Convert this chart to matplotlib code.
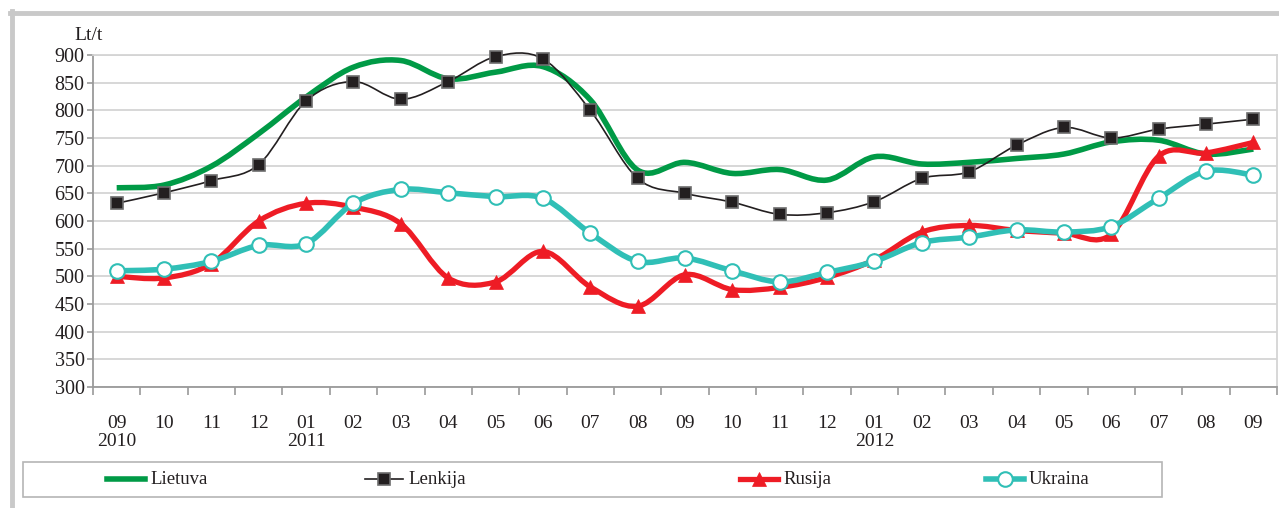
import matplotlib
matplotlib.use("Agg")
import matplotlib.pyplot as plt
import numpy as np
from matplotlib.path import Path
from matplotlib.patches import PathPatch, Rectangle
from matplotlib.lines import Line2D
import matplotlib.transforms as mtransforms

months = ["09", "10", "11", "12", "01", "02", "03", "04", "05", "06", "07", "08",
          "09", "10", "11", "12", "01", "02", "03", "04", "05", "06", "07", "08", "09"]
years = {0: "2010", 4: "2011", 16: "2012"}

lietuva = [660, 665, 699, 758, 824, 878, 890, 857, 869, 879, 819, 692, 706,
           686, 693, 674, 716, 703, 706, 713, 721, 743, 746, 721, 730]
lenkija = [632, 651, 673, 702, 817, 852, 820, 852, 897, 893, 800, 677, 650,
           634, 612, 615, 635, 677, 689, 737, 769, 750, 766, 775, 784]
rusija = [500, 497, 523, 600, 632, 625, 595, 497, 490, 545, 481, 446, 503,
          476, 480, 498, 530, 580, 592, 583, 578, 576, 717, 723, 742]
ukraina = [510, 513, 527, 556, 559, 632, 657, 651, 644, 641, 578, 527, 533,
           510, 490, 507, 527, 561, 571, 584, 580, 590, 641, 690, 683]

plt.rcParams['font.family'] = ['Liberation Serif', 'DejaVu Serif']

W, H = 1279, 508
fig = plt.figure(figsize=(W / 100, H / 100), dpi=100)
ax = fig.add_axes([93 / W, 1 - 387 / H, (1277 - 93) / W, (387 - 55) / H])


def smooth_path(xs, ys):
    p = np.column_stack([xs, ys]).astype(float)
    n = len(p)
    verts = [p[0]]
    codes = [Path.MOVETO]
    for i in range(n - 1):
        p0 = p[i - 1] if i > 0 else p[i]
        p1 = p[i]
        p2 = p[i + 1]
        p3 = p[i + 2] if i + 2 < n else p[i + 1]
        c1 = p1 + (p2 - p0) / 6.0
        c2 = p2 - (p3 - p1) / 6.0
        verts += [c1, c2, p2]
        codes += [Path.CURVE4] * 3
    return Path(verts, codes)


x = np.arange(len(months))
series = [
    (lietuva, "#009a46", 4.0, None, {}),
    (lenkija, "#231f20", 1.2, "s", dict(markersize=8.5, markerfacecolor="#231f20",
                                        markeredgecolor="#6d6d6d", markeredgewidth=1.2)),
    (rusija, "#ee1c25", 3.8, "^", dict(markersize=9.5, markerfacecolor="#ee1c25",
                                       markeredgecolor="#ee1c25", markeredgewidth=0.5)),
    (ukraina, "#30bfb6", 4.0, "o", dict(markersize=10.5, markerfacecolor="white",
                                        markeredgecolor="#30bfb6", markeredgewidth=1.5)),
]
for k, (vals, col, lw, mk, mkw) in enumerate(series):
    z = 3 + k
    patch = PathPatch(smooth_path(x, vals), fill=False, edgecolor=col, lw=lw,
                      capstyle="butt", joinstyle="round", zorder=z, clip_on=False)
    ax.add_patch(patch)
    if mk:
        ax.plot(x, vals, linestyle="none", marker=mk, zorder=z + 0.5, clip_on=False, **mkw)

ax.set_xlim(-0.5, len(months) - 0.5)
ax.set_ylim(300, 900)
ax.set_yticks(np.arange(300, 901, 50))
ax.yaxis.grid(True, color="#d4d4d4", lw=1.3)
ax.set_axisbelow(True)

ax.set_xticks(x)
ax.set_xticklabels(months)
ax.set_xticks(np.arange(-0.5, len(months), 1), minor=True)
ax.tick_params(axis="x", which="major", length=0, pad=20, labelsize=14, colors="#231f20")
ax.tick_params(axis="x", which="minor", length=6, width=1.2, color="#9a9a9a")
ax.tick_params(axis="y", length=4, width=1.2, color="#9a9a9a", pad=2, labelsize=14.5,
               labelcolor="#231f20")

for side in ["top", "right"]:
    ax.spines[side].set_color("#d4d4d4")
    ax.spines[side].set_linewidth(1.3)
for side in ["left", "bottom"]:
    ax.spines[side].set_color("#9a9a9a")
    ax.spines[side].set_linewidth(1.3)

trans = mtransforms.blended_transform_factory(ax.transData, ax.transAxes)
for pos, yr in years.items():
    ax.text(pos, (387 - 441) / 332, yr, transform=trans, ha="center", va="center",
            fontsize=14, color="#231f20")

fig.text(89 / W, 1 - 36 / H, "Lt/t", ha="center", va="center", fontsize=14, color="#231f20")

# figure frame
fig.add_artist(Line2D([10 / W, 1], [1 - 13 / H] * 2, transform=fig.transFigure,
                      color="#c9c9c9", lw=3.5))
fig.add_artist(Line2D([12 / W, 12 / W], [1 - 11 / H, 0], transform=fig.transFigure,
                      color="#c9c9c9", lw=3.5))

# legend
fig.add_artist(Rectangle((23 / W, 1 - 497 / H), (1162 - 23) / W, 35 / H,
                         transform=fig.transFigure, fill=False, edgecolor="#b5b5b5", lw=1.2))
names = ["Lietuva", "Lenkija", "Rusija", "Ukraina"]
leg_x = [107, 365, 740, 986]
ly = 1 - 479 / H
for (vals, col, lw, mk, mkw), nm, lx in zip(series, names, leg_x):
    l = Line2D([lx / W, (lx + 38) / W], [ly, ly], transform=fig.transFigure,
               color=col, lw=lw)
    fig.add_artist(l)
    if mk:
        fig.add_artist(Line2D([(lx + 19) / W], [ly], transform=fig.transFigure,
                              linestyle="none", marker=mk, **mkw))
    fig.text((lx + 43) / W, ly, nm, ha="left", va="center", fontsize=13.5, color="#231f20")

fig.savefig("out.png", dpi=100)
